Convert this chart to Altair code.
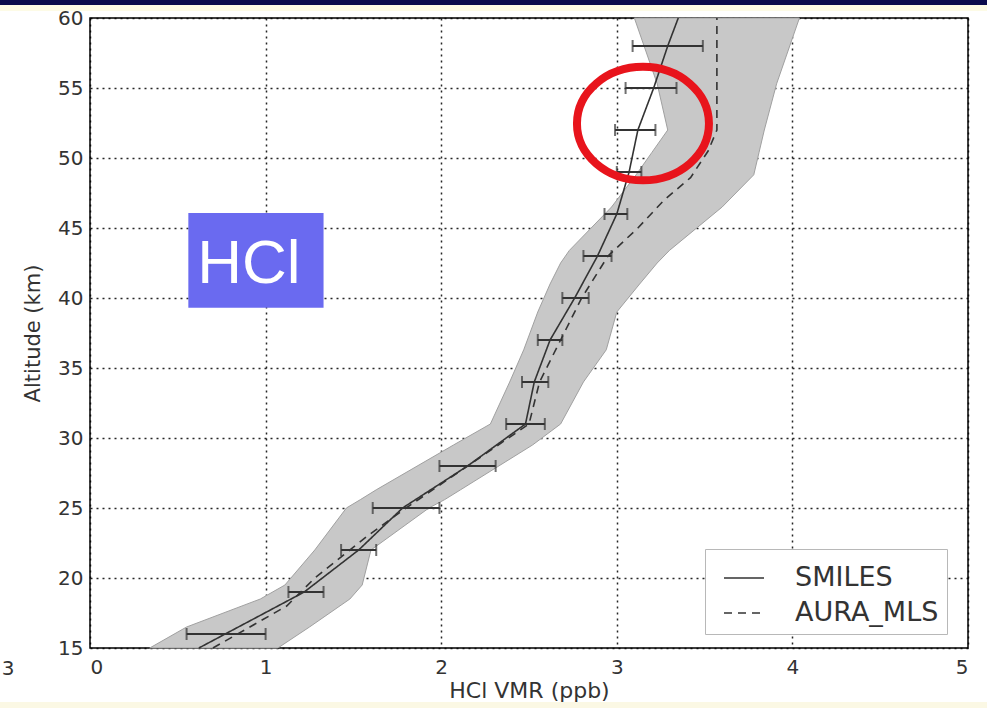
import altair as alt
import pandas as pd

# ---- data ----
smiles_alt = [15, 16, 19, 22, 25, 28, 31, 34, 37, 40, 43, 46, 49, 52, 55, 58, 60]
smiles_vmr = [0.62, 0.77, 1.22, 1.53, 1.78, 2.15, 2.48, 2.53, 2.62, 2.76, 2.89, 3.00, 3.07, 3.12, 3.21, 3.29, 3.35]

mls_alt = [15, 18, 20, 23, 25, 28, 31, 34, 37, 40, 43, 45, 47, 48.6, 50.5, 52, 60]
mls_vmr = [0.70, 1.12, 1.28, 1.58, 1.80, 2.15, 2.50, 2.56, 2.68, 2.80, 2.95, 3.12, 3.27, 3.42, 3.52, 3.57, 3.57]

err_alt = [16, 19, 22, 25, 28, 31, 34, 37, 40, 43, 46, 49, 52, 55, 58]
err_lo = [0.55, 1.13, 1.43, 1.61, 1.99, 2.37, 2.46, 2.55, 2.69, 2.81, 2.93, 3.00, 2.99, 3.05, 3.09]
err_hi = [1.00, 1.33, 1.63, 1.99, 2.31, 2.59, 2.61, 2.69, 2.84, 2.97, 3.06, 3.14, 3.22, 3.34, 3.49]

band_alt = [15, 16.5, 18.5, 19.5, 22, 25, 25.6, 26.3, 29.5, 31, 34, 36.3, 39, 41, 42.5, 43.4, 46.5, 48.8, 50.4, 52, 55.3, 60]
band_lo = [0.34, 0.55, 0.97, 1.11, 1.28, 1.46, 1.54, 1.63, 2.07, 2.28, 2.39, 2.47, 2.55, 2.62, 2.68, 2.73, 2.97, 3.11, 3.20, 3.29, 3.23, 3.10]
band_hi = [1.07, 1.25, 1.48, 1.55, 1.60, 1.93, 2.02, 2.11, 2.52, 2.68, 2.81, 2.94, 3.00, 3.13, 3.23, 3.30, 3.60, 3.78, 3.81, 3.84, 3.91, 4.04]

series_names = ["SMILES", "AURA_MLS"]

lines_df = pd.DataFrame(
    {"alt": smiles_alt + mls_alt,
     "vmr": smiles_vmr + mls_vmr,
     "series": ["SMILES"] * len(smiles_alt) + ["AURA_MLS"] * len(mls_alt)}
)
err_df = pd.DataFrame({"alt": err_alt, "lo": err_lo, "hi": err_hi})
band_df = pd.DataFrame({"alt": band_alt, "lo": band_lo, "hi": band_hi})
label_df = pd.DataFrame({"x1": [0.56], "x2": [1.33], "y1": [46.07], "y2": [39.3], "xt": [0.905], "yt": [41.1], "txt": ["HCl"]})
circle_df = pd.DataFrame({"x": [3.149], "y": [52.46]})

X = alt.Scale(domain=[0, 5], nice=False)
Y = alt.Scale(domain=[15, 60], nice=False)
INK = "#333333"

xax = alt.Axis(values=[0, 1, 2, 3, 4, 5], title="HCl VMR (ppb)", grid=True, ticks=False, domain=False,
               labelFontSize=20, titleFontSize=22, labelPadding=9, titlePadding=3,
               labelColor=INK, titleColor=INK, titleFontWeight="normal", format="d")
yax = alt.Axis(values=list(range(15, 61, 5)), title="Altitude (km)", grid=True, ticks=False, domain=False,
               labelFontSize=20, titleFontSize=21, labelPadding=7, titlePadding=14,
               labelColor=INK, titleColor=INK, titleFontWeight="normal", format="d")

band = alt.Chart(band_df).mark_area(orient="horizontal", color="#c8c8c8", opacity=1,
                                    stroke="#a0a0a0", strokeWidth=1).encode(
    y=alt.Y("alt:Q", scale=Y, axis=yax),
    x=alt.X("lo:Q", scale=X, axis=xax),
    x2="hi:Q",
)

lines = alt.Chart(lines_df).mark_line(color=INK, strokeWidth=1.6).encode(
    y=alt.Y("alt:Q", scale=Y),
    x=alt.X("vmr:Q", scale=X),
    order=alt.Order("alt:Q"),
    strokeDash=alt.StrokeDash("series:N", scale=alt.Scale(domain=series_names, range=[[1, 0], [8, 6]]),
                              legend=alt.Legend(title=None)),
)

err_rule = alt.Chart(err_df).mark_rule(color=INK, strokeWidth=2).encode(
    y=alt.Y("alt:Q", scale=Y), x=alt.X("lo:Q", scale=X), x2="hi:Q")
cap_lo = alt.Chart(err_df).mark_tick(color=INK, orient="vertical", size=12, thickness=2).encode(
    y=alt.Y("alt:Q", scale=Y), x=alt.X("lo:Q", scale=X))
cap_hi = alt.Chart(err_df).mark_tick(color=INK, orient="vertical", size=12, thickness=2).encode(
    y=alt.Y("alt:Q", scale=Y), x=alt.X("hi:Q", scale=X))

box = alt.Chart(label_df).mark_rect(color="#6a6af0").encode(
    x=alt.X("x1:Q", scale=X), x2="x2:Q", y=alt.Y("y1:Q", scale=Y), y2="y2:Q")
box_txt = alt.Chart(label_df).mark_text(color="white", font="Liberation Sans", fontSize=62,
                                        align="center", baseline="alphabetic").encode(
    x=alt.X("xt:Q", scale=X), y=alt.Y("yt:Q", scale=Y), text="txt:N")

ellipse_path = ("M -1 0 C -1 -0.475 -0.552 -0.86 0 -0.86 C 0.552 -0.86 1 -0.475 1 0 "
                "C 1 0.475 0.552 0.86 0 0.86 C -0.552 0.86 -1 0.475 -1 0 Z")
circle = alt.Chart(circle_df).mark_point(shape=ellipse_path, filled=False, size=17424,
                                         stroke="#e8141c", strokeWidth=8, opacity=1).encode(
    x=alt.X("x:Q", scale=X), y=alt.Y("y:Q", scale=Y))

# slide decorations around the figure
top_bar = alt.Chart(circle_df).mark_rect(color="#0b0b4d", clip=False).encode(
    x=alt.value(-90), x2=alt.value(897), y=alt.value(-18), y2=alt.value(-13))
top_pale = alt.Chart(circle_df).mark_rect(color="#fdfbe6", clip=False).encode(
    x=alt.value(-90), x2=alt.value(897), y=alt.value(-13), y2=alt.value(-7))
bot_pale = alt.Chart(circle_df).mark_rect(color="#fbf8e4", clip=False).encode(
    x=alt.value(-90), x2=alt.value(897), y=alt.value(684), y2=alt.value(690))
stub = alt.Chart(circle_df).mark_text(text="3", font="DejaVu Sans", fontSize=20, color=INK,
                                      align="center", baseline="alphabetic", clip=False).encode(
    x=alt.value(-82), y=alt.value(657))

chart = alt.layer(top_bar, top_pale, bot_pale, stub, band, lines, err_rule, cap_lo, cap_hi, box, box_txt, circle).properties(
    width=878, height=630,
    autosize=alt.AutoSizeParams(type="none"),
    padding={"left": 90, "top": 18, "right": 19, "bottom": 60},
    background="white",
).configure_view(
    stroke="black", strokeWidth=1.5
).configure_axis(
    gridColor="black", gridDash=[2, 4], gridWidth=1.5, gridOpacity=0.85,
    labelFont="DejaVu Sans", titleFont="DejaVu Sans",
).configure_legend(
    orient="none", legendX=615, legendY=531,
    strokeColor="#b8b8b8", fillColor="white", padding=8, cornerRadius=0,
    labelFontSize=27, labelFont="DejaVu Sans", labelColor=INK,
    symbolType="stroke", symbolSize=1600, symbolStrokeWidth=1.6, symbolStrokeColor=INK,
    symbolOffset=10, labelOffset=30, rowPadding=1,
)

chart.save("out.html", embed_options={"renderer": "svg", "actions": False})
